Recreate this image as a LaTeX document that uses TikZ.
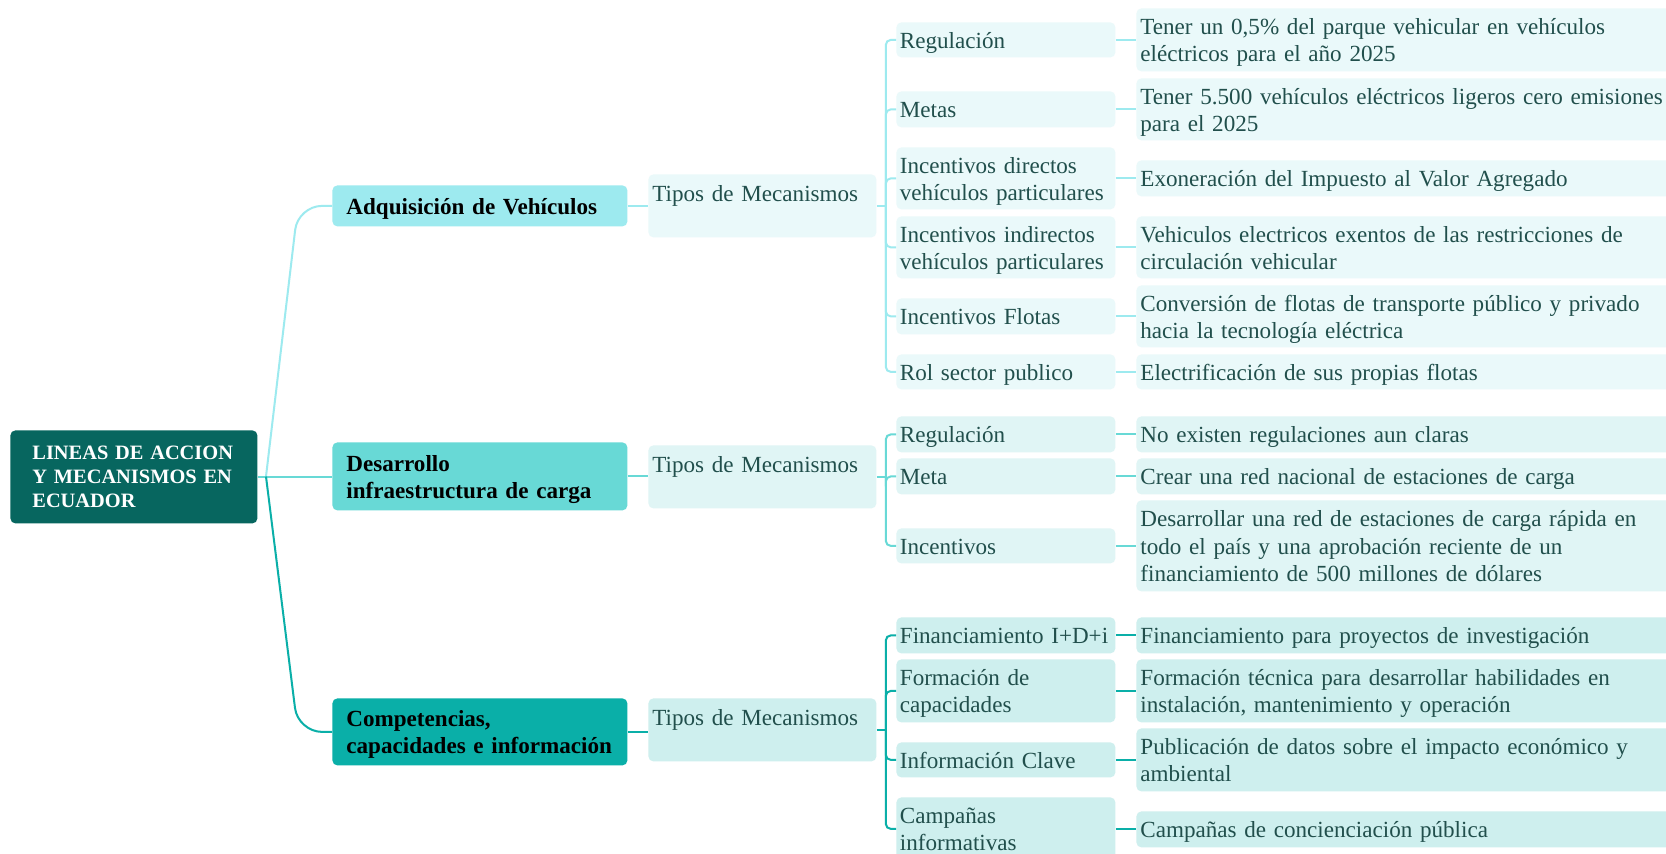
\documentclass[tikz,border=0pt]{standalone}
\usepackage{fontspec}
\setmainfont{Liberation Serif}
\definecolor{rootc}{HTML}{07665F}
\definecolor{c1}{HTML}{9DEAEF}
\definecolor{c2}{HTML}{68D9D6}
\definecolor{c3}{HTML}{0AAFA8}
\definecolor{f1}{HTML}{EAF9FA}
\definecolor{f2}{HTML}{E0F5F5}
\definecolor{f3}{HTML}{CEEFEE}
\definecolor{txt}{HTML}{214F4C}
\newcommand\mainsz{\fontsize{11.55pt}{13.6pt}\selectfont\hyphenpenalty=10000 }
\newcommand\rootsz{\fontsize{10.2pt}{12.2pt}\selectfont\bfseries}
\begin{document}
\begin{tikzpicture}[x=0.5pt,y=-0.5pt,
 box/.style={anchor=north west, rounded corners=2.5pt, inner ysep=0pt, align=left, font=\mainsz, text=txt},
 one/.style={text height=11pt, text depth=2.7pt},
 two/.style={text height=11pt, text depth=16.3pt},
 three/.style={text height=11pt, text depth=29.9pt},
 rootbox/.style={box, fill=rootc, text=white, font=\rootsz, inner xsep=11pt, text width=101.5pt},
 l1box/.style={box, text=black, font=\mainsz\bfseries, inner xsep=7pt, text width=133.5pt},
 tipbox/.style={box, inner xsep=2pt, text width=110pt, text height=13.5pt, text depth=18pt},
 l3box/.style={box, inner xsep=1.75pt, text width=106pt},
 leafbox/.style={box, inner xsep=2pt, text width=278pt},
 link/.style={line width=1pt},
]
\fill[white] (0,0) rectangle (1666,854);
\useasboundingbox (0,0) rectangle (1666,854);

% root and first level
\node[rootbox, minimum height=46.5pt] (root) at (10,430) {LINEAS DE ACCION\\Y MECANISMOS EN\\ECUADOR};
\node[l1box, one, fill=c1, minimum height=20.5pt] (adq) at (332,185) {Adquisición de Vehículos};
\node[l1box, two, fill=c2, minimum height=34pt] (des) at (332,442) {Desarrollo\\infraestructura de carga};
\node[l1box, two, fill=c3, minimum height=33.5pt] (com) at (332,698) {Competencias,\\capacidades e información};

% second level
\node[tipbox, fill=f1] (t1) at (648,174) {Tipos de Mecanismos};
\node[tipbox, fill=f2] (t2) at (648,445) {Tipos de Mecanismos};
\node[tipbox, fill=f3] (t3) at (648,698) {Tipos de Mecanismos};

% group 1
\node[l3box, one, fill=f1, minimum height=17.5pt] (a1) at (896,22) {Regulación};
\node[l3box, one, fill=f1, minimum height=18pt] (a2) at (896,91) {Metas};
\node[l3box, two, fill=f1, minimum height=31pt] (a3) at (896,147) {Incentivos directos\\vehículos particulares};
\node[l3box, two, fill=f1, minimum height=31pt] (a4) at (896,216) {Incentivos indirectos\\vehículos particulares};
\node[l3box, one, fill=f1, minimum height=18pt] (a5) at (896,298) {Incentivos Flotas};
\node[l3box, one, fill=f1, minimum height=17.5pt] (a6) at (896,354) {Rol sector publico};
\node[leafbox, two, fill=f1, minimum height=31.5pt] (b1) at (1136,8) {Tener un 0,5\% del parque vehicular en vehículos\\eléctricos para el año 2025};
\node[leafbox, two, fill=f1, minimum height=31pt] (b2) at (1136,78) {Tener 5.500 vehículos eléctricos ligeros cero emisiones\\para el 2025};
\node[leafbox, one, fill=f1, minimum height=18pt] (b3) at (1136,160) {Exoneración del Impuesto al Valor Agregado};
\node[leafbox, two, fill=f1, minimum height=31pt] (b4) at (1136,216) {Vehiculos electricos exentos de las restricciones de\\circulación vehicular};
\node[leafbox, two, fill=f1, minimum height=31pt] (b5) at (1136,285) {Conversión de flotas de transporte público y privado\\hacia la tecnología eléctrica};
\node[leafbox, one, fill=f1, minimum height=17.5pt] (b6) at (1136,354) {Electrificación de sus propias flotas};

% group 2
\node[l3box, one, fill=f2, minimum height=18pt] (a7) at (896,416) {Regulación};
\node[l3box, one, fill=f2, minimum height=18pt] (a8) at (896,458) {Meta};
\node[l3box, one, fill=f2, minimum height=17.5pt] (a9) at (896,528) {Incentivos};
\node[leafbox, one, fill=f2, minimum height=18pt] (b7) at (1136,416) {No existen regulaciones aun claras};
\node[leafbox, one, fill=f2, minimum height=18pt] (b8) at (1136,458) {Crear una red nacional de estaciones de carga};
\node[leafbox, three, fill=f2, minimum height=45.5pt] (b9) at (1136,500) {Desarrollar una red de estaciones de carga rápida en\\todo el país y una aprobación reciente de un\\financiamiento de 500 millones de dólares};

% group 3
\node[l3box, one, fill=f3, minimum height=18pt] (a10) at (896,617) {Financiamiento I+D+i};
\node[l3box, two, fill=f3, minimum height=31.5pt] (a11) at (896,659) {Formación de\\capacidades};
\node[l3box, one, fill=f3, minimum height=17.5pt] (a12) at (896,742) {Información Clave};
\node[l3box, two, fill=f3, minimum height=31.5pt] (a13) at (896,797) {Campañas\\informativas};
\node[leafbox, one, fill=f3, minimum height=18pt] (b10) at (1136,617) {Financiamiento para proyectos de investigación};
\node[leafbox, two, fill=f3, minimum height=31.5pt] (b11) at (1136,659) {Formación técnica para desarrollar habilidades en\\instalación, mantenimiento y operación};
\node[leafbox, two, fill=f3, minimum height=31.5pt] (b12) at (1136,728) {Publicación de datos sobre el impacto económico y\\ambiental};
\node[leafbox, one, fill=f3, minimum height=18pt] (b13) at (1136,811) {Campañas de concienciación pública};

% connectors root -> first level
\coordinate (fork) at (266,476.5);
\draw[link,c2] (root.east) -- (root.east -| des.west);
\draw[link,c1,rounded corners=12pt] (fork) -- ([xshift=-17pt]adq.west) -- (adq.west);
\draw[link,c3,rounded corners=12pt] (fork) -- ([xshift=-17pt]com.west) -- (com.west);

% first level -> second level
\draw[link,c1] (adq.east) -- (adq.east -| t1.west);
\draw[link,c2] (des.east) -- (des.east -| t2.west);
\draw[link,c3] (com.east) -- (com.east -| t3.west);

% second level -> third level -> leaves
\draw[link,c1] (t1.east) -- ++(9,0);
\draw[link,c2] (t2.east) -- ++(9,0);
\draw[link,c3] (t3.east) -- ++(9,0);
\foreach \i in {1,...,6} {
  \draw[link,c1,rounded corners=2.5pt] ([xshift=4.5pt]t1.east) |- (a\i.west);
  \draw[link,c1] (a\i.east) -- (a\i.east -| b\i.west);
}
\foreach \i in {7,8,9} {
  \draw[link,c2,rounded corners=2.5pt] ([xshift=4.5pt]t2.east) |- (a\i.west);
  \draw[link,c2] (a\i.east) -- (a\i.east -| b\i.west);
}
\foreach \i in {10,...,13} {
  \draw[link,c3,rounded corners=2.5pt] ([xshift=4.5pt]t3.east) |- (a\i.west);
  \draw[link,c3] (a\i.east) -- (a\i.east -| b\i.west);
}
\end{tikzpicture}
\end{document}
